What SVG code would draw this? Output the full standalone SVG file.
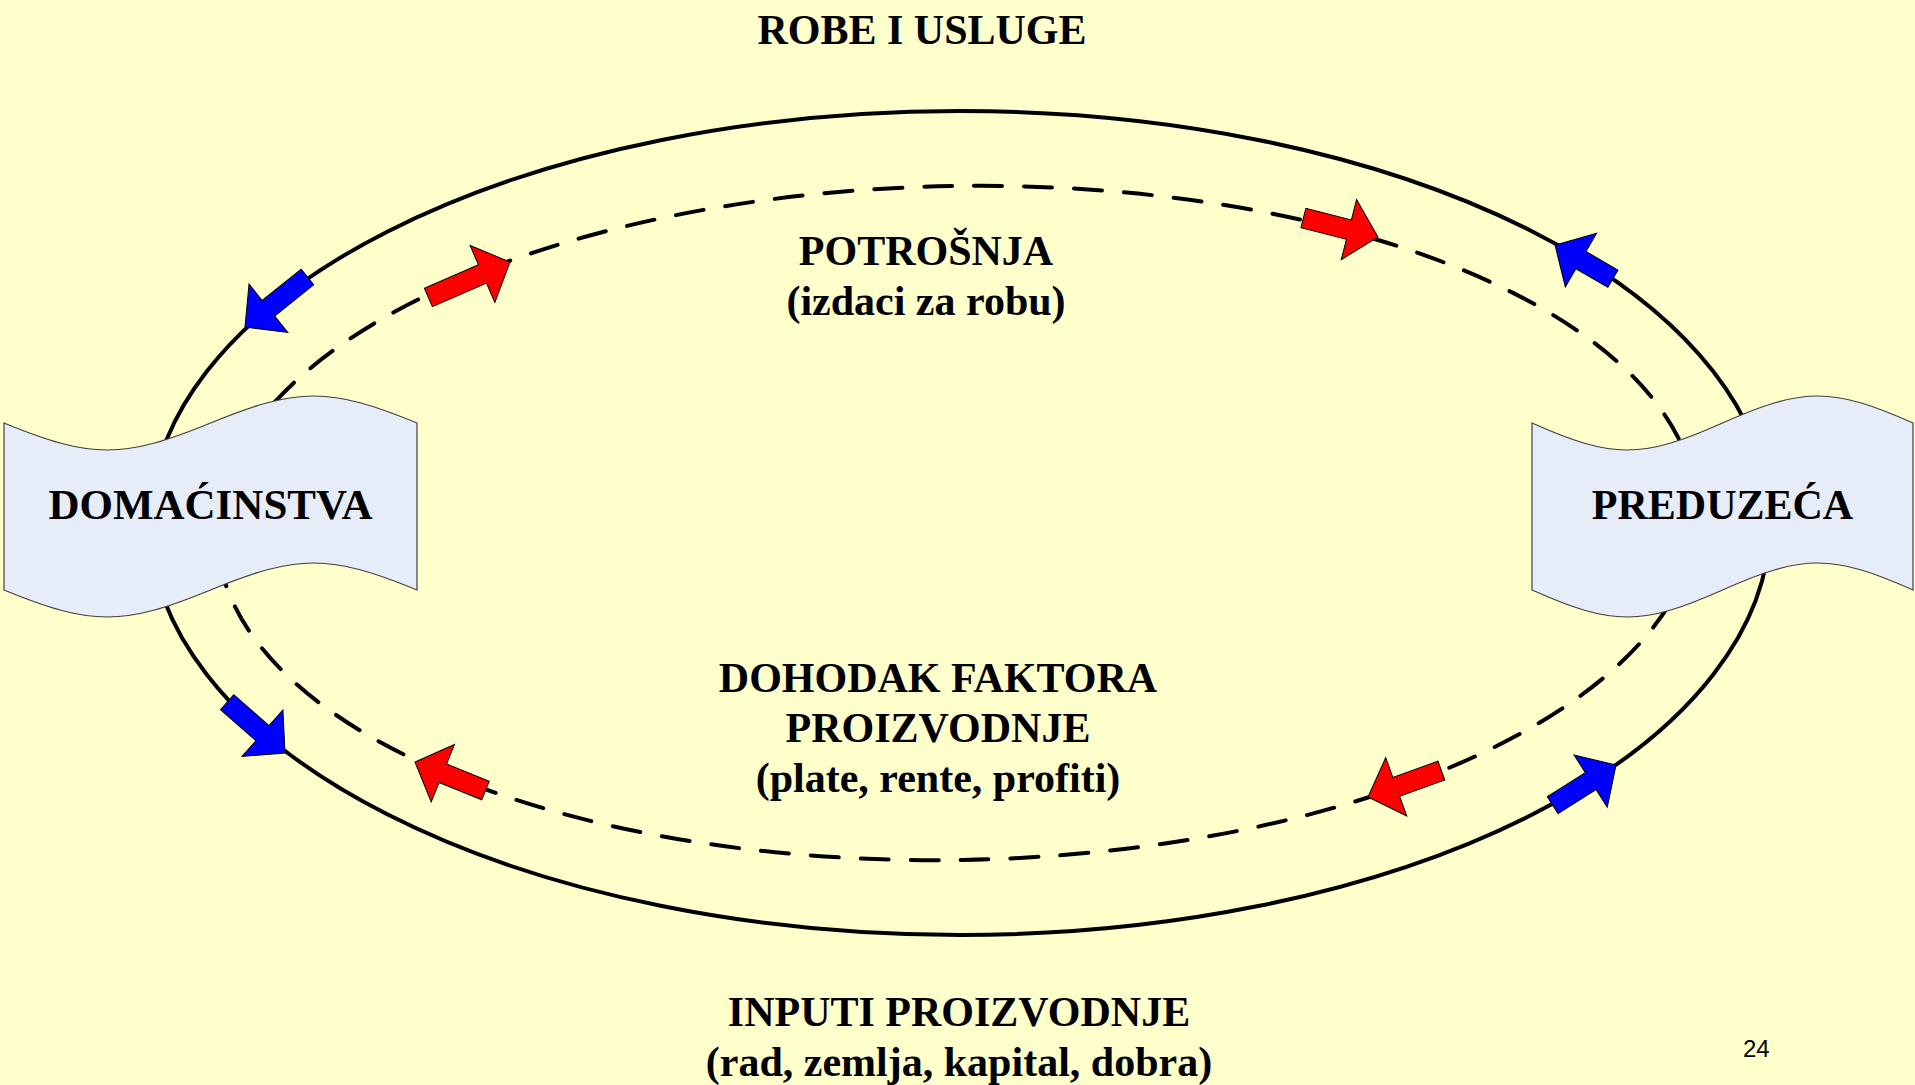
<svg xmlns="http://www.w3.org/2000/svg" width="1915" height="1085" viewBox="0 0 1915 1085">
<style>
.bg{fill:#FFFFCC}
.solid{fill:none;stroke:#000;stroke-width:4}
.dash{fill:none;stroke:#000;stroke-width:4;stroke-dasharray:28 22;stroke-linecap:round}
.blue{fill:#0000FF;stroke:#000;stroke-width:1;stroke-linejoin:miter}
.red{fill:#FF0000;stroke:#000;stroke-width:1;stroke-linejoin:miter}
.node{fill:#E6ECF8;stroke:#404040;stroke-width:1.2}
.t{font-family:"Liberation Serif","Times New Roman",serif;font-weight:bold;font-size:42px;fill:#000;text-anchor:middle}
.num{font-family:"Liberation Sans",Arial,sans-serif;font-size:24px;fill:#000}
</style>
<rect class="bg" x="0" y="0" width="1915" height="1085"/>
<g id="connectors">
  <ellipse class="solid" cx="960" cy="523" rx="810" ry="412"/>
  <ellipse class="dash" cx="957" cy="523" rx="740" ry="337" transform="rotate(-1.01 957 523)"/>
  <path class="blue" transform="translate(245 327) rotate(141.3)" d="M0,0 L-30,-31 L-30,-10 L-80,-10 L-80,10 L-30,10 L-30,31 Z"/>
  <path class="red" transform="translate(510 262) rotate(-23.5)" d="M0,0 L-30,-31 L-30,-10 L-89,-10 L-89,10 L-30,10 L-30,31 Z"/>
  <path class="red" transform="translate(1378 237) rotate(14.3)" d="M0,0 L-30,-31 L-30,-10 L-77,-10 L-77,10 L-30,10 L-30,31 Z"/>
  <path class="blue" transform="translate(1555 245) rotate(210.2)" d="M0,0 L-30,-31 L-30,-10 L-67,-10 L-67,10 L-30,10 L-30,31 Z"/>
  <path class="blue" transform="translate(285 753) rotate(41.3)" d="M0,0 L-30,-31 L-30,-10 L-77,-10 L-77,10 L-30,10 L-30,31 Z"/>
  <path class="red" transform="translate(415 762) rotate(202)" d="M0,0 L-30,-31 L-30,-10 L-76,-10 L-76,10 L-30,10 L-30,31 Z"/>
  <path class="red" transform="translate(1368 797) rotate(160.2)" d="M0,0 L-30,-31 L-30,-10 L-78,-10 L-78,10 L-30,10 L-30,31 Z"/>
  <path class="blue" transform="translate(1616 765) rotate(-32.4)" d="M0,0 L-30,-31 L-30,-10 L-75,-10 L-75,10 L-30,10 L-30,31 Z"/>
</g>
<g id="node-domacinstva">
  <path class="node" d="M4,423 C91.6,459 122.9,459 210.5,423 C298.1,387 329.4,387 417,423 L417,590 C329.4,554 298.1,554 210.5,590 C122.9,626 91.6,626 4,590 Z"/>
  <text class="t" x="210.5" y="519" style="font-size:43px">DOMAĆINSTVA</text>
</g>
<g id="node-preduzeca">
  <path class="node" d="M1532,423 C1612.8,459 1641.7,459 1722.5,423 C1803.3,387 1832.2,387 1913,423 L1913,590 C1832.2,554 1803.3,554 1722.5,590 C1641.7,626 1612.8,626 1532,590 Z"/>
  <text class="t" x="1722.5" y="519">PREDUZEĆA</text>
</g>
<g id="labels">
  <text class="t" x="922" y="44">ROBE I USLUGE</text>
  <text class="t" x="926" y="265">POTROŠNJA</text>
  <text class="t" x="926" y="315">(izdaci za robu)</text>
  <text class="t" x="938" y="692">DOHODAK FAKTORA</text>
  <text class="t" x="938" y="742">PROIZVODNJE</text>
  <text class="t" x="938" y="792">(plate, rente, profiti)</text>
  <text class="t" x="959" y="1026">INPUTI PROIZVODNJE</text>
  <text class="t" x="959" y="1076">(rad, zemlja, kapital, dobra)</text>
  <text class="num" x="1743" y="1057">24</text>
</g>
</svg>
